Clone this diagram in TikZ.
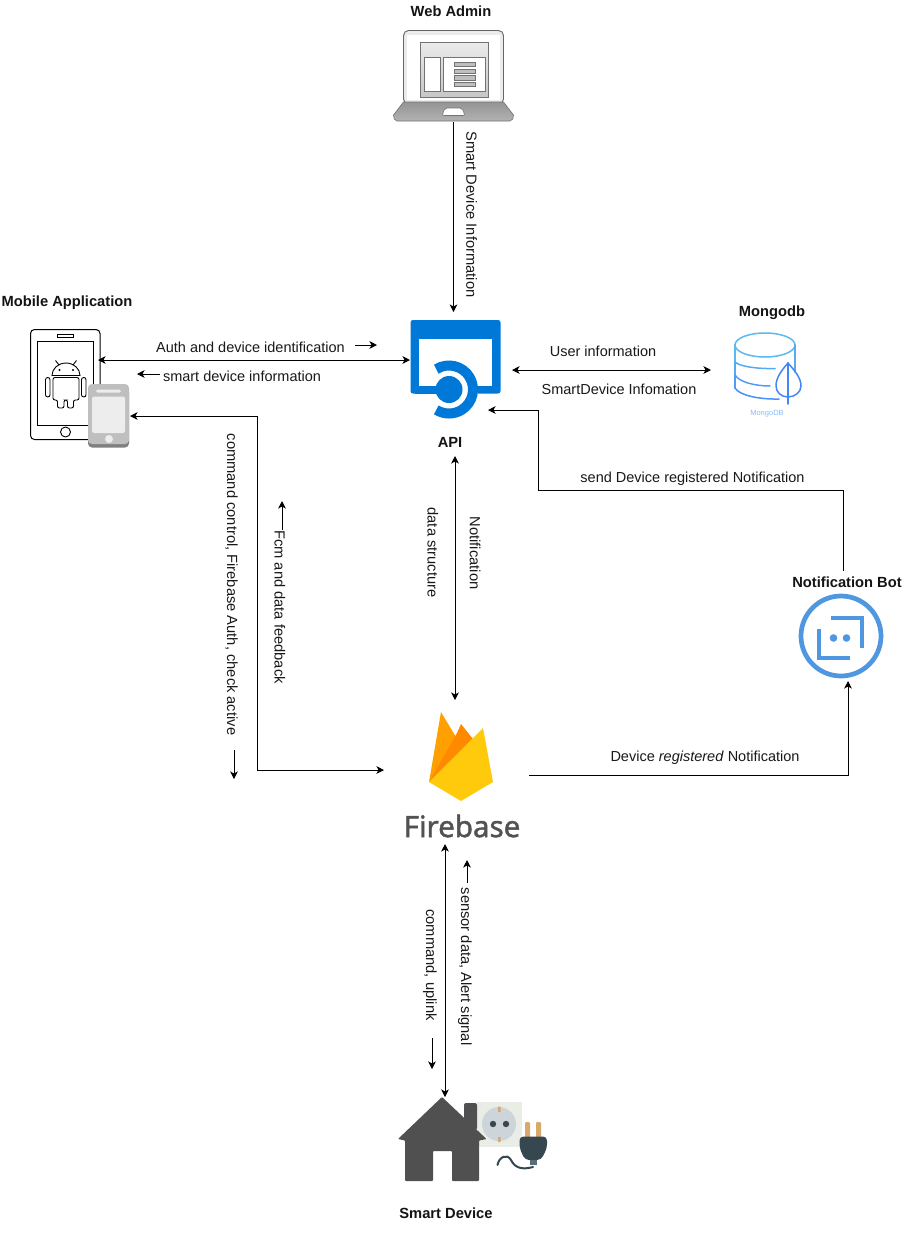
\documentclass[tikz,border=0pt]{standalone}
\usepackage{fontspec}
\setmainfont{Liberation Sans}
\newfontfamily\fbfont[FakeBold=1.4]{Noto Sans}
\usetikzlibrary{arrows.meta,positioning}
\definecolor{apiblue}{HTML}{0078D7}
\definecolor{botblue}{HTML}{4F97E0}
\definecolor{housegray}{HTML}{505050}
\definecolor{fbleft}{HTML}{FFA000}
\definecolor{fbmid}{HTML}{FF8A00}
\definecolor{fbyellow}{HTML}{FFCA0C}
\definecolor{socketbg}{HTML}{E9EDE6}
\definecolor{socketface}{HTML}{CDD5DA}
\definecolor{plugdark}{HTML}{37474F}
\definecolor{plugtan}{HTML}{D9A86C}
\definecolor{plugstem}{HTML}{546E7A}
\tikzset{
  x=1pt,y=-1pt,
  conn/.style={line width=0.9pt,draw=black},
  oneway/.style={conn,-{Stealth[length=7.5pt,width=7.5pt,inset=2pt]}},
  twoway/.style={conn,{Stealth[length=7.5pt,width=7.5pt,inset=2pt]}-{Stealth[length=7.5pt,width=7.5pt,inset=2pt]}},
  iconbox/.style={rectangle,draw=none,fill=none,inner sep=0pt,outer sep=0pt},
  lbl/.style={font=\fontsize{14.5}{16}\selectfont,inner sep=0pt,text=black!90},
  vlbl/.style={lbl,font=\fontsize{14.7}{16}\selectfont,rotate=-90},
  title/.style={font=\fontsize{14.7}{16}\selectfont\bfseries,inner sep=0pt,text=black!92},
  mono/.style={draw=black,line width=1pt,fill=white},
  mongoline/.style={line width=1.5pt,line cap=round},
}
\begin{document}
\begin{tikzpicture}
\useasboundingbox (0,0) rectangle (921,1235);
\fill[white] (0,0) rectangle (921,1235);

%% ---- Layout boxes (invisible), connectors attach to these
\node[iconbox,minimum width=121pt,minimum height=92pt] (webadmin) at (453.5,76) {};
\node[iconbox,minimum width=68pt,minimum height=110pt] (mobile) at (64,384) {};
\node[iconbox,minimum width=102pt,minimum height=144pt] (api) at (461,384) {};
\node[iconbox,minimum width=94pt,minimum height=76pt] (mongo) at (758,370) {};
\node[iconbox,minimum width=86pt,minimum height=110pt] (bot) at (848,626) {};
\node[iconbox,minimum width=145pt,minimum height=144pt] (firebase) at (456.5,772) {};
\node[iconbox,minimum width=150pt,minimum height=100pt] (smart) at (445,1147) {};

%% ---- Web admin laptop
\draw[draw=black!60,line width=0.9pt,fill=black!8,rounded corners=5pt] (403.5,104) -- (403.5,30.5) -- (503.5,30.5) -- (503.5,104) -- cycle;
\fill[white] (407,35) rectangle (500,100);
\shade[top color=black!42,bottom color=black!30,draw=black!55,line width=0.6pt] (403.5,102) -- (503.5,102) -- (513.5,115) to[out=-90,in=0] (510,121) -- (397,121) to[out=180,in=-90] (393.5,115) -- cycle;
\draw[draw=black!55,fill=white,rounded corners=2pt,line width=0.6pt] (445,108) -- (462,108) -- (465,115.5) -- (442,115.5) -- cycle;
\draw[draw=black!55,line width=1pt,top color=black!8,bottom color=black!22,shading=axis] (420.5,42) rectangle (488.5,97);
\draw[draw=black!55,fill=white,line width=1pt] (424.5,57.5) rectangle (440,91);
\draw[draw=black!55,fill=white,line width=1pt] (443.5,57.5) rectangle (485,91);
\foreach \ya in {62,69,75.5,82}{
  \draw[draw=black!55,fill=black!25,line width=0.7pt] (454.5,\ya) rectangle (475.5,\ya+4.5);
}

%% ---- Mobile: phone with android
\draw[mono,rounded corners=4pt] (30.5,329.5) rectangle (100,439.5);
\draw[draw=black,line width=1pt] (37.5,341.5) rectangle (93,425);
\draw[draw=black,line width=0.9pt] (57.5,334.5) rectangle (73.5,337.5);
\draw[draw=black,line width=0.9pt] (65.5,432) circle[radius=5pt];
\begin{scope}[draw=black,line width=0.9pt]
  \draw (52,375.5) arc[start angle=180,end angle=0,x radius=14pt,y radius=12.5pt] -- cycle;
  \draw (55.5,360.5) -- (59,365) (76.5,360.5) -- (73,365);
  \fill (59.5,370) circle[radius=1.2pt] (73,370) circle[radius=1.2pt];
  \draw[rounded corners=2pt] (53,377.5) -- (79,377.5) -- (79,400) -- (73.5,400) -- (73.5,408) -- (67.5,408) -- (67.5,400) -- (64,400) -- (64,408) -- (57.5,408) -- (57.5,400) -- (53,400) -- cycle;
  \draw[rounded corners=2.2pt] (45.5,377.5) rectangle (50,397);
  \draw[rounded corners=2.2pt] (81.5,377.5) rectangle (86,397);
\end{scope}
\fill[black!50,rounded corners=4pt] (88,388) rectangle (129,447.5);
\fill[black!25,rounded corners=4pt] (88,384) rectangle (129,444);
\fill[white!93!black,rounded corners=2pt] (92,396.5) rectangle (125,433);
\fill[white!93!black,rounded corners=1.5pt] (96,389.5) rectangle (121,392.5);
\fill[white!93!black] (109,439) circle[radius=4pt];

%% ---- API icon
\fill[apiblue,rounded corners=2.5pt] (410.5,320) rectangle (500.5,393.5);
\fill[white] (419,339) rectangle (492,385.5);
\fill[white] (449,389.5) circle[radius=29pt];
\fill[apiblue] (415,385.5) rectangle (440,393.5);
\draw[apiblue,line width=10pt] (449,389.5) ++(122:24pt) arc[start angle=122,end angle=-122,radius=24pt];
\fill[apiblue] (449,389.5) circle[radius=13.5pt];

%% ---- Mongo icon
\begin{scope}[mongoline]
  \draw[color={rgb,255:red,90;green,185;blue,240}] (765,345) ellipse[x radius=30pt,y radius=12pt];
  \draw[color={rgb,255:red,90;green,185;blue,240}] (735,345) -- (735,362);
  \draw[color={rgb,255:red,85;green,170;blue,242}] (735,362) .. controls (739,366) and (755,369) .. (775,368.5);
  \draw[color={rgb,255:red,85;green,170;blue,242}] (735,362) -- (735,375);
  \draw[color={rgb,255:red,80;green,155;blue,245}] (735,375) .. controls (739,382) and (755,386) .. (770,386);
  \draw[color={rgb,255:red,80;green,155;blue,245}] (735,375) -- (735,388);
  \draw[color={rgb,255:red,75;green,145;blue,247}] (735,388) .. controls (739,395) and (758,399.5) .. (779,399);
  \draw[color={rgb,255:red,90;green,170;blue,240}] (795,345) -- (795,372);
  \draw[color={rgb,255:red,65;green,135;blue,248}] (788,363) .. controls (781,371) and (776,378) .. (776,386) .. controls (776,392) and (781,397) .. (788,397) .. controls (795,397) and (801,392) .. (801,386) .. controls (801,378) and (795,371) .. (788,363) -- cycle;
  \draw[color={rgb,255:red,65;green,135;blue,248}] (788,363) -- (788,404);
\end{scope}
\node[font=\fontsize{7.5}{9}\selectfont,text={rgb,255:red,140;green,185;blue,248},inner sep=0pt] (mongotext) at (767,414) {MongoDB};

%% ---- Notification bot icon
\draw[botblue,line width=4.7pt] (841,636) circle[radius=40pt];
\draw[botblue,line width=4pt] (831,618) -- (862,618) -- (862,647.5);
\draw[botblue,line width=4pt] (819,629) -- (819,658) -- (850,658);
\fill[botblue] (833.5,638) circle[radius=3.8pt] (846.5,638) circle[radius=3.8pt];

%% ---- Firebase icon
\fill[fbleft] (429,782) -- (441,712) -- (465,752) -- cycle;
\fill[fbmid] (429,782) -- (457,733) -- (461,724) -- (473,739) -- cycle;
\fill[fbyellow] (429,782) -- (483,728) -- (493,782) -- (461,801) -- cycle;
\node[font=\fontsize{29.5}{34}\selectfont\fbfont,text=black!68,inner sep=0pt] (fbtext) at (462,826) {Firebase};

%% ---- Smart device icon
\fill[socketbg] (477,1102) rectangle (522,1147);
\fill[socketface] (499,1124) circle[radius=17pt];
\fill[plugdark] (493,1124) circle[radius=3.2pt] (506,1124) circle[radius=3.2pt];
\fill[plugtan] (498,1106.5) rectangle (500.5,1112) (498,1137) rectangle (500.5,1142);
\fill[plugtan,rounded corners=1pt] (525,1122) rectangle (530,1138) (536,1122) rectangle (541,1138);
\fill[plugdark,rounded corners=4pt] (519.5,1136.5) -- (547,1136.5) -- (547,1148) -- (541,1160) -- (525,1160) -- (519.5,1148) -- cycle;
\fill[plugstem] (530,1160) rectangle (537,1165);
\draw[plugdark,line width=2pt,line cap=round] (497.5,1165) .. controls (499,1157) and (507,1153) .. (511,1160) .. controls (515,1168) and (522,1170) .. (533,1167);
\fill[housegray,rounded corners=2pt] (464,1130) -- (464,1103) -- (477,1103) -- (477,1130) -- cycle;
\fill[housegray,rounded corners=0.8pt] (442,1097) -- (486.5,1139) -- (479,1140.5) -- (479,1181) -- (452,1181) -- (452,1151) -- (433,1151) -- (433,1181) -- (405,1181) -- (405,1140.5) -- (398,1139) -- cycle;

%% ---- Titles
\node[title] (twebadmin) at (451,11.5) {Web Admin};
\node[title] (tmobile) at (67,302.5) {Mobile Application};
\node[title] (tapi) at (450,442.5) {API};
\node[title] (tmongo) at (772,312.5) {Mongodb};
\node[title] (tbot) at (847,582) {Notification Bot};
\node[title] (tsmart) at (446,1213) {Smart Device};

%% ---- Connectors
\draw[oneway] (webadmin.south) -- (webadmin.south |- api.north);
\draw[twoway] (mobile.east |- 0,360) -- (api.west |- 0,360);
\draw[twoway] (api.east |- mongo.west) -- (mongo.west);
\draw[oneway] (bot.north -| 843,0) -- (843,490) -- (538,490) -- (538,410) -- (488,410);
\draw[twoway] (api.south -| 455,0) -- (firebase.north -| 455,0);
\draw[oneway] (firebase.east |- 0,775) -- (848,775) -- (bot.south);
\draw[twoway] (130,416) -- (257,416) -- (257,770) -- (firebase.west |- 0,770);
\draw[twoway] (firebase.south -| 445,0) -- (smart.north -| 445,0);

%% ---- Free arrows beside labels
\coordinate (a1s) at (355,345); \coordinate (a1e) at (377,345);
\coordinate (a2s) at (160,374); \coordinate (a2e) at (137,374);
\coordinate (a3s) at (282,530); \coordinate (a3e) at (282,501);
\coordinate (a4s) at (234,750); \coordinate (a4e) at (234,779);
\coordinate (a5s) at (467,883); \coordinate (a5e) at (467,860);
\coordinate (a6s) at (432,1038); \coordinate (a6e) at (432,1069);
\draw[oneway] (a1s) -- (a1e);
\draw[oneway] (a2s) -- (a2e);
\draw[oneway] (a3s) -- (a3e);
\draw[oneway] (a4s) -- (a4e);
\draw[oneway] (a5s) -- (a5e);
\draw[oneway] (a6s) -- (a6e);

%% ---- Labels
\node[vlbl] (l1) at (471.5,214.5) {Smart Device Information};
\node[lbl] (l2) at (250.5,347) {Auth and device identification};
\node[lbl] (l3) at (242,376) {smart device information};
\node[lbl] (l4) at (603,351) {User information};
\node[lbl] (l5) at (619,389) {SmartDevice Infomation};
\node[lbl] (l6) at (692.5,478.5) {send Device registered Notification};
\node[vlbl] (l7) at (231.5,584.5) {command control, Firebase Auth, check active};
\node[vlbl] (l8) at (280,607) {Fcm and data feedback};
\node[vlbl] (l9) at (433,552.5) {data structure};
\node[vlbl] (l10) at (475,553) {Notification};
\node[lbl] (l11) at (705,757.5) {Device \textit{registered} Notification};
\node[vlbl] (l12) at (465,966.5) {sensor data, Alert signal};
\node[vlbl] (l13) at (430,965) {command, uplink};
\end{tikzpicture}
\end{document}
